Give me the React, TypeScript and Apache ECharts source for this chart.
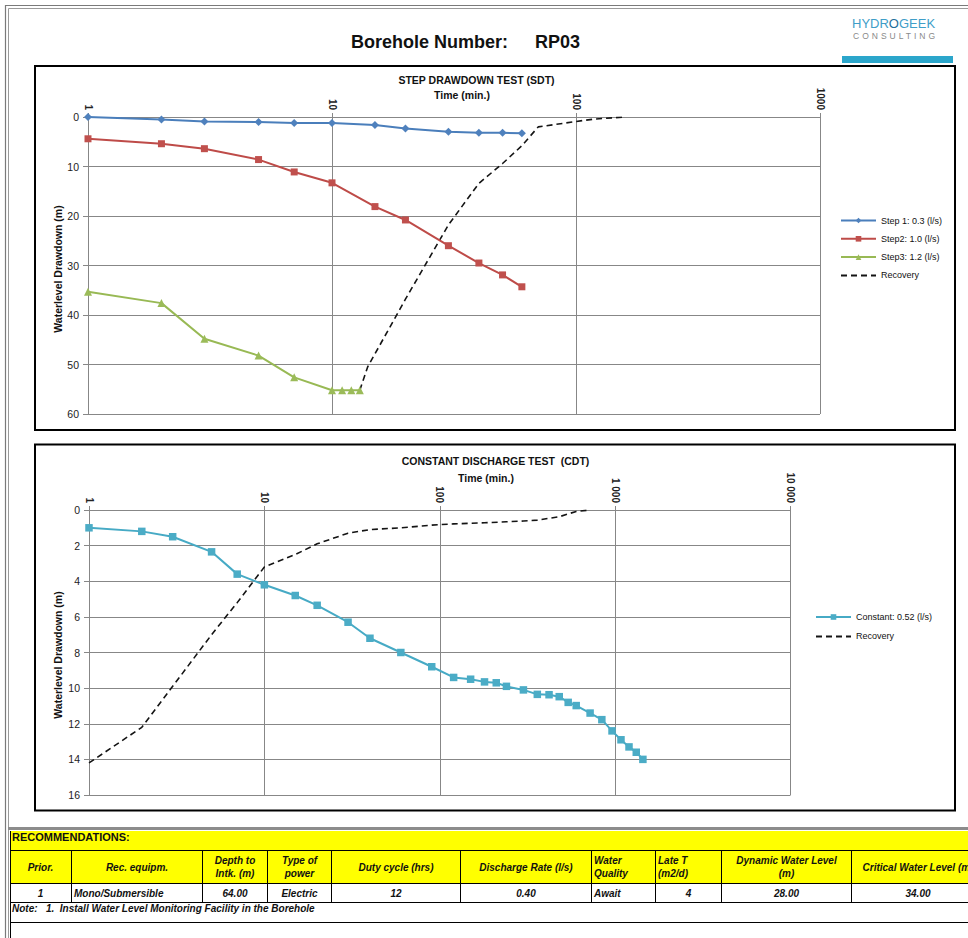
import React, { useEffect, useRef } from 'react';
import * as echarts from 'echarts';

// ---------- DATA ----------
// Step drawdown test (SDT)
const sdtTimes = [1, 2, 3, 5, 7, 10, 15, 20, 30, 40, 50, 60];
const step1Drawdown = [0, 0.5, 0.9, 1.0, 1.2, 1.2, 1.6, 2.3, 3.0, 3.2, 3.2, 3.3];
const step2Drawdown = [4.4, 5.4, 6.4, 8.6, 11.1, 13.3, 18.1, 20.8, 26.0, 29.5, 31.9, 34.3];
const step3Times = [1, 2, 3, 5, 7, 10, 11, 12, 13];
const step3Drawdown = [35.3, 37.6, 44.8, 48.2, 52.6, 55.2, 55.2, 55.2, 55.2];
const sdtRecoveryTimes = [13, 14, 20, 30, 40, 50, 60, 70, 100, 120, 160];
const sdtRecoveryDrawdown = [55.2, 50.5, 36.8, 21.8, 13.4, 9.4, 5.8, 2.0, 0.9, 0.4, 0.0];

// Constant discharge test (CDT)
const cdtTimes = [1, 2, 3, 5, 7, 10, 15, 20, 30, 40, 60, 90, 120, 150, 180, 210, 240, 300, 360, 420, 480, 540, 600, 720, 840, 960, 1080, 1200, 1320, 1440];
const cdtDrawdown = [1.0, 1.2, 1.5, 2.35, 3.6, 4.2, 4.8, 5.35, 6.3, 7.2, 8.0, 8.8, 9.4, 9.5, 9.65, 9.7, 9.9, 10.1, 10.35, 10.37, 10.48, 10.8, 10.98, 11.4, 11.77, 12.4, 12.9, 13.3, 13.6, 14.0];
const cdtRecoveryTimes = [1, 2, 3, 5, 7, 10, 15, 20, 30, 40, 60, 90, 120, 180, 240, 300, 360, 480, 600, 720];
const cdtRecoveryDrawdown = [14.2, 12.2, 9.9, 7.0, 5.2, 3.2, 2.5, 1.9, 1.3, 1.1, 1.0, 0.85, 0.78, 0.72, 0.66, 0.62, 0.57, 0.38, 0.08, 0.0];

const sdtSeriesNames = ['Step 1: 0.3 (l/s)', 'Step2: 1.0 (l/s)', 'Step3: 1.2 (l/s)', 'Recovery'];
const cdtSeriesNames = ['Constant: 0.52 (l/s)', 'Recovery'];

// Recommendations table
const recHeaders = ['Prior.', 'Rec. equipm.', 'Depth to\nIntk. (m)', 'Type of\npower', 'Duty cycle (hrs)', 'Discharge Rate (l/s)', 'Water\nQuality', 'Late T\n(m2/d)', 'Dynamic Water Level\n(m)', 'Critical Water Level (m)'];
const recValues = ['1', 'Mono/Submersible', '64.00', 'Electric', '12', '0.40', 'Await', '4', '28.00', '34.00'];
const recNote = 'Note:   1.  Install Water Level Monitoring Facility in the Borehole';

// ---------- LAYOUT / STYLE ----------
const FONT = '"Liberation Sans", Arial, Helvetica, sans-serif';
const GRID = '#878787';
const LBL = '#222222';
const colEdges = [10, 72, 203, 268, 332, 461, 592, 656, 722, 852, 985];
const headerAlign = ['center', 'center', 'center', 'center', 'center', 'center', 'left', 'left', 'center', 'center'];
const valueAlign = ['center', 'left', 'center', 'center', 'center', 'center', 'left', 'center', 'center', 'center'];

const pairs = (xs: number[], ys: number[]) => xs.map((x, i) => [x, ys[i]]);
const fmtPlain = (v: number) => String(Math.round(v));
const fmtSpaced = (v: number) => String(Math.round(v)).replace(/\B(?=(\d{3})+(?!\d))/g, ' ');

function makeXAxis(gridIndex: number, max: number, fmt: (v: number) => string) {
  return {
    type: 'log',
    logBase: 10,
    min: 1,
    max,
    gridIndex,
    position: 'top',
    axisLine: { show: true, onZero: false, lineStyle: { color: GRID, width: 1 } },
    axisTick: { show: true, length: 4, inside: false, lineStyle: { color: GRID } },
    axisLabel: { rotate: 90, margin: 7, fontSize: 10, fontWeight: 'bold', color: LBL, fontFamily: FONT, formatter: fmt },
    splitLine: { show: true, lineStyle: { color: GRID, width: 1 } },
    minorTick: { show: false },
    minorSplitLine: { show: false },
  };
}

function makeYAxis(gridIndex: number, max: number, interval: number) {
  return {
    type: 'value',
    gridIndex,
    inverse: true,
    min: 0,
    max,
    interval,
    axisLine: { show: true, lineStyle: { color: GRID, width: 1 } },
    axisTick: { show: true, length: 5, inside: false, lineStyle: { color: GRID } },
    axisLabel: { margin: 9, fontSize: 10.5, color: LBL, fontFamily: FONT },
    splitLine: { show: true, lineStyle: { color: GRID, width: 1 } },
  };
}

function txt(text: string, x: number, y: number, font: string, align = 'center', extra: any = {}) {
  return {
    type: 'text',
    x,
    y,
    silent: true,
    ...extra,
    style: { text, x: 0, y: 0, font, fill: '#111', align, verticalAlign: 'middle', textAlign: align, textVerticalAlign: 'middle' },
  };
}

const legendEntry = (name: string) =>
  name === 'Recovery'
    ? { name, itemStyle: { opacity: 0, color: 'rgba(0,0,0,0)', borderWidth: 0 } }
    : { name };

export default function App() {
  const ref = useRef<HTMLDivElement>(null);

  useEffect(() => {
    if (!ref.current) return;
    const chart = echarts.init(ref.current, undefined, { renderer: 'svg' });
    const recoveryStyle = { color: '#141414', width: 1.6, type: [6, 4] as any };
    const option: any = {
      animation: false,
      backgroundColor: 'transparent',
      textStyle: { fontFamily: FONT },
      grid: [
        { left: 88, top: 117, width: 732, height: 297, containLabel: false, outerBoundsMode: 'none' },
        { left: 89, top: 510, width: 701.5, height: 285, containLabel: false, outerBoundsMode: 'none' },
      ],
      xAxis: [makeXAxis(0, 1000, fmtPlain), makeXAxis(1, 10000, fmtSpaced)],
      yAxis: [makeYAxis(0, 60, 10), makeYAxis(1, 16, 2)],
      legend: [
        {
          data: sdtSeriesNames.map(legendEntry),
          orient: 'vertical',
          left: 840,
          top: 216,
          padding: 0,
          itemWidth: 35,
          itemHeight: 7,
          itemGap: 9.3,
          selectedMode: false,
          textStyle: { fontSize: 9, color: '#111', fontFamily: FONT },
        },
        {
          data: cdtSeriesNames.map(legendEntry),
          orient: 'vertical',
          left: 815,
          top: 612.5,
          padding: 0,
          itemWidth: 35,
          itemHeight: 7,
          itemGap: 10.4,
          selectedMode: false,
          textStyle: { fontSize: 9, color: '#111', fontFamily: FONT },
        },
      ],
      series: [
        {
          name: sdtSeriesNames[0], type: 'line', xAxisIndex: 0, yAxisIndex: 0,
          data: pairs(sdtTimes, step1Drawdown), symbol: 'diamond', symbolSize: 8, showAllSymbol: true,
          lineStyle: { color: '#4A7EBB', width: 2 }, itemStyle: { color: '#4F81BD' }, z: 4,
        },
        {
          name: sdtSeriesNames[1], type: 'line', xAxisIndex: 0, yAxisIndex: 0,
          data: pairs(sdtTimes, step2Drawdown), symbol: 'rect', symbolSize: 7, showAllSymbol: true,
          lineStyle: { color: '#BE4B48', width: 2 }, itemStyle: { color: '#C0504D' }, z: 4,
        },
        {
          name: sdtSeriesNames[2], type: 'line', xAxisIndex: 0, yAxisIndex: 0,
          data: pairs(step3Times, step3Drawdown), symbol: 'triangle', symbolSize: 8, showAllSymbol: true,
          lineStyle: { color: '#98B954', width: 2 }, itemStyle: { color: '#9BBB59' }, z: 4,
        },
        {
          name: sdtSeriesNames[3], type: 'line', xAxisIndex: 0, yAxisIndex: 0,
          data: pairs(sdtRecoveryTimes, sdtRecoveryDrawdown), symbol: 'none',
          lineStyle: recoveryStyle, itemStyle: { color: '#141414' }, z: 3,
        },
        {
          name: cdtSeriesNames[0], type: 'line', xAxisIndex: 1, yAxisIndex: 1,
          data: pairs(cdtTimes, cdtDrawdown), symbol: 'rect', symbolSize: 7.5, showAllSymbol: true,
          lineStyle: { color: '#46AAC5', width: 2 }, itemStyle: { color: '#4BACC6' }, z: 4,
        },
        {
          name: cdtSeriesNames[1], type: 'line', xAxisIndex: 1, yAxisIndex: 1,
          data: pairs(cdtRecoveryTimes, cdtRecoveryDrawdown), symbol: 'none',
          lineStyle: recoveryStyle, itemStyle: { color: '#141414' }, z: 3,
        },
      ],
      graphic: [
        // page borders
        { type: 'polyline', silent: true, shape: { points: [[5.5, 938], [5.5, 5.5], [968, 5.5]] }, style: { stroke: '#7a7a7a', lineWidth: 1.2, fill: null } },
        { type: 'polyline', silent: true, shape: { points: [[8.5, 938], [8.5, 8.5], [968, 8.5]] }, style: { stroke: '#9a9a9a', lineWidth: 1, fill: null } },
        // chart frames
        { type: 'rect', silent: true, shape: { x: 35, y: 66, width: 920, height: 364 }, style: { stroke: '#000', lineWidth: 2, fill: null } },
        { type: 'rect', silent: true, shape: { x: 35, y: 444.5, width: 920, height: 366 }, style: { stroke: '#000', lineWidth: 2, fill: null } },
        // separator above table
        { type: 'rect', silent: true, shape: { x: 8, y: 827, width: 960, height: 3 }, style: { fill: '#8c8c8c' } },
        // main title
        txt('Borehole Number:', 351, 42, `bold 18px ${FONT}`, 'left'),
        txt('RP03', 535, 42, `bold 18px ${FONT}`, 'left'),
        // SDT titles
        txt('STEP DRAWDOWN TEST (SDT)', 476.5, 80, `bold 10.5px ${FONT}`),
        txt('Time (min.)', 462, 94.5, `bold 10.5px ${FONT}`),
        txt('Waterlevel Drawdown (m)', 58, 269, `bold 10.5px ${FONT}`, 'center', { rotation: Math.PI / 2 }),
        // CDT titles
        txt('CONSTANT DISCHARGE TEST  (CDT)', 495.5, 461, `bold 10.5px ${FONT}`),
        txt('Time (min.)', 486, 477.5, `bold 10.5px ${FONT}`),
        txt('Waterlevel Drawdown (m)', 58, 655, `bold 10.5px ${FONT}`, 'center', { rotation: Math.PI / 2 }),
      ],
    };
    chart.setOption(option);
    return () => chart.dispose();
  }, []);

  const cellFont = `italic bold 10px ${FONT}`;
  const cells: React.ReactNode[] = [];
  for (let i = 0; i < recHeaders.length; i++) {
    const left = colEdges[i];
    const width = colEdges[i + 1] - colEdges[i];
    const common: React.CSSProperties = {
      position: 'absolute', left, width, boxSizing: 'border-box', display: 'flex', alignItems: 'center',
      borderRight: '1px solid #000', padding: '0 2px', font: cellFont, color: '#111', whiteSpace: 'pre', overflow: 'visible',
    };
    cells.push(
      <div key={'h' + i} style={{ ...common, top: 851, height: 32, lineHeight: '13px', justifyContent: headerAlign[i] === 'left' ? 'flex-start' : 'center', textAlign: headerAlign[i] as any }}>
        {recHeaders[i]}
      </div>
    );
    cells.push(
      <div key={'v' + i} style={{ ...common, top: 884, height: 18, lineHeight: '13px', justifyContent: valueAlign[i] === 'left' ? 'flex-start' : 'center', textAlign: valueAlign[i] as any }}>
        {recValues[i]}
      </div>
    );
  }

  const hline = (top: number, key: string) => (
    <div key={key} style={{ position: 'absolute', left: 10, top, width: 958, height: 1, background: '#000' }} />
  );

  return (
    <div style={{ position: 'absolute', left: 0, top: 0, width: 968, height: 938, overflow: 'hidden', background: '#fff', fontFamily: FONT }}>
      <div ref={ref} style={{ position: 'absolute', left: 0, top: 0, width: 968, height: 938 }} />
      {/* logo */}
      <div style={{ position: 'absolute', left: 852, top: 16, font: `13px ${FONT}`, color: '#3f9ec8', lineHeight: '16px', whiteSpace: 'nowrap' }}>
        HYDR<span style={{ color: '#1e6e9a' }}>O</span>GEEK
      </div>
      <div style={{ position: 'absolute', left: 853, top: 31, font: `8.5px ${FONT}`, color: '#8a8a8a', letterSpacing: '3px', lineHeight: '10px', whiteSpace: 'nowrap' }}>
        CONSULTING
      </div>
      <div style={{ position: 'absolute', left: 842, top: 56, width: 111, height: 7, background: '#2ba6cb' }} />
      {/* table */}
      <div style={{ position: 'absolute', left: 10, top: 831, width: 958, height: 52, background: '#ffff00' }} />
      <div style={{ position: 'absolute', left: 12, top: 831, height: 19, lineHeight: '19px', font: `bold 11px ${FONT}`, color: '#111', whiteSpace: 'nowrap' }}>
        RECOMMENDATIONS:
      </div>
      {hline(850, 'l1')}
      {hline(883, 'l2')}
      {hline(902, 'l3')}
      {hline(922, 'l4')}
      {cells}
      <div style={{ position: 'absolute', left: 12, top: 903, height: 19, lineHeight: '19px', font: `italic bold 10px ${FONT}`, color: '#111', whiteSpace: 'pre' }}>
        {recNote}
      </div>
      <div style={{ position: 'absolute', left: 10, top: 831, width: 1, height: 107, background: '#000' }} />
    </div>
  );
}
